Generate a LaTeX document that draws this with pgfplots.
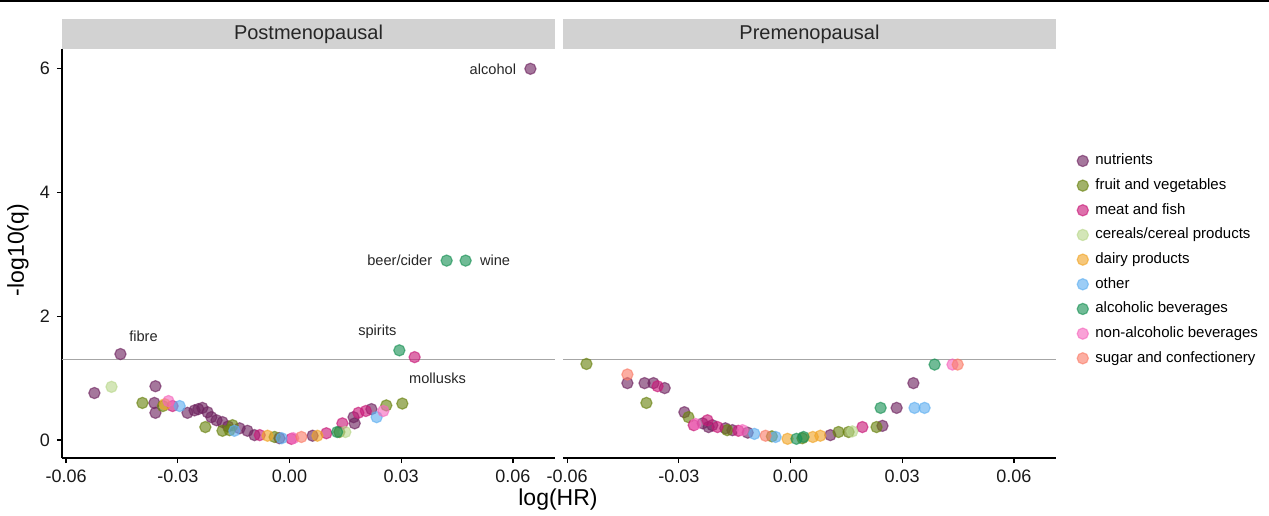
\documentclass[border=0pt]{standalone}
\usepackage{pgfplots}
\pgfplotsset{compat=1.18}
\usepackage{fontspec}
\setmainfont{Liberation Sans}
\definecolor{cNut}{RGB}{110,35,95}
\definecolor{cFru}{RGB}{105,130,15}
\definecolor{cMea}{RGB}{200,25,120}
\definecolor{cCer}{RGB}{185,215,140}
\definecolor{cDai}{RGB}{240,165,40}
\definecolor{cOth}{RGB}{95,175,240}
\definecolor{cAlc}{RGB}{25,145,85}
\definecolor{cNon}{RGB}{245,105,190}
\definecolor{cSug}{RGB}{250,125,105}
\definecolor{stripgray}{RGB}{210,210,210}
\tikzset{lab/.style={font=\fontsize{7.3}{9}\selectfont, text=black!85, inner sep=0pt}}
\pgfplotsset{
  pt/.style={only marks, mark=*, mark size=2.8pt, color=#1, mark options={fill opacity=0.62, draw opacity=0.62, line width=0.6pt}},
  panel/.style={scale only axis, width=246.5pt, height=204.5pt,
    xmin=-0.0611, xmax=0.0713, ymin=-0.29, ymax=6.32,
    axis x line*=bottom, axis line style={line width=0.8pt, -},
    xtick={-0.06,-0.03,0,0.03,0.06}, xticklabels={-0.06,-0.03,0.00,0.03,0.06},
    tick style={black, line width=0.6pt}, major tick length=2.5pt, tick align=outside,
    ticklabel style={font=\fontsize{9}{10}\selectfont, text=black!90},
    clip=false, scaled x ticks=false}
}
\begin{document}
\begin{tikzpicture}
\useasboundingbox (-31pt,-28.5pt) rectangle (603.5pt,229pt);
\draw[line width=1pt] (-31pt,228.6pt) -- (603.5pt,228.6pt);
% ---------------- Postmenopausal
\begin{axis}[panel, at={(0pt,0pt)}, anchor=south west,
  axis y line*=left, ytick={0,2,4,6}, yticklabels={0,2,4,6}]
\fill[stripgray] (rel axis cs:0,1) rectangle ([yshift=15pt]rel axis cs:1,1);
\node[font=\fontsize{10}{12}\selectfont, text=black!85] at ([yshift=7.5pt]rel axis cs:0.5,1) {Postmenopausal};
\addplot[forget plot, color=black!35, line width=0.5pt] coordinates {(-0.0611,1.301) (0.0713,1.301)};
\addplot[pt=cNut] coordinates {(0.0647,6.0) (-0.0454,1.39) (-0.0524,0.76) (-0.036,0.87) (-0.0363,0.60) (-0.036,0.44) (-0.0274,0.44) (-0.0255,0.48) (-0.0234,0.52) (-0.022,0.45) (-0.021,0.37) (-0.0196,0.32) (-0.018,0.29) (-0.0134,0.19) (-0.0113,0.15) (-0.0094,0.08) (-0.0027,0.03) (0.0062,0.07) (0.0172,0.37) (0.0175,0.27) (0.022,0.50) (-0.0245,0.50) (-0.0165,0.22)};
\addplot[pt=cFru] coordinates {(-0.0395,0.60) (-0.034,0.55) (-0.0226,0.21) (-0.018,0.15) (-0.0161,0.16) (-0.0153,0.24) (-0.004,0.05) (0.0134,0.13) (0.026,0.56) (0.0303,0.59)};
\addplot[pt=cMea] coordinates {(0.0336,1.34) (-0.0314,0.55) (-0.008,0.08) (0.0005,0.02) (0.0099,0.11) (0.0142,0.27) (0.0185,0.44) (0.0205,0.47)};
\addplot[pt=cCer] coordinates {(-0.0478,0.86) (0.015,0.13)};
\addplot[pt=cDai] coordinates {(-0.0335,0.58) (-0.0059,0.07) (0.0075,0.07)};
\addplot[pt=cOth] coordinates {(-0.0295,0.55) (-0.0148,0.15) (-0.0021,0.03) (0.0234,0.37)};
\addplot[pt=cAlc] coordinates {(0.0422,2.90) (0.0473,2.90) (0.0295,1.45) (0.0128,0.13)};
\addplot[pt=cNon] coordinates {(0.0252,0.47) (0.0010,0.03) (-0.0325,0.63)};
\addplot[pt=cSug] coordinates {(0.0032,0.05)};
\node[lab, anchor=east] at ([xshift=-7pt]axis cs:0.0647,6.0) {alcohol};
\node[lab, anchor=east] at ([xshift=-7pt]axis cs:0.0422,2.90) {beer/cider};
\node[lab, anchor=west] at ([xshift=7pt]axis cs:0.0473,2.90) {wine};
\node[lab] at ([xshift=-11pt,yshift=9.5pt]axis cs:0.0295,1.45) {spirits};
\node[lab] at ([xshift=11.5pt,yshift=-10.5pt]axis cs:0.0336,1.34) {mollusks};
\node[lab] at ([xshift=11.5pt,yshift=9pt]axis cs:-0.0454,1.39) {fibre};
\end{axis}
% ---------------- Premenopausal
\begin{axis}[panel, at={(250.5pt,0pt)}, anchor=south west,
  axis y line=none, ytick=\empty,
  legend style={at={(1.03,0.485)}, anchor=west, draw=none, fill=none,
    font=\fontsize{7.5}{9}\selectfont, row sep=1.4pt, column sep=1.5pt},
  legend cell align=left]
\fill[stripgray] (rel axis cs:0,1) rectangle ([yshift=15pt]rel axis cs:1,1);
\node[font=\fontsize{10}{12}\selectfont, text=black!85] at ([yshift=7.5pt]rel axis cs:0.5,1) {Premenopausal};
\addplot[forget plot, color=black!35, line width=0.5pt] coordinates {(-0.0611,1.301) (0.0713,1.301)};
\addplot[forget plot, pt=cNut] coordinates {(-0.0438,0.92) (-0.0392,0.92) (-0.0368,0.92) (-0.0338,0.84) (-0.0285,0.45) (-0.0236,0.27) (-0.0210,0.24) (-0.022,0.21) (-0.0175,0.19) (-0.0156,0.16) (-0.0115,0.12) (0.0107,0.08) (0.0247,0.23) (0.0285,0.52) (0.033,0.92)};
\addplot[forget plot, pt=cFru] coordinates {(-0.0548,1.23) (-0.0387,0.60) (-0.0274,0.37) (-0.017,0.16) (-0.0050,0.06) (0.0032,0.03) (0.0129,0.13) (0.0156,0.13) (0.0231,0.21)};
\addplot[forget plot, pt=cMea] coordinates {(-0.0357,0.87) (-0.026,0.24) (-0.0223,0.32) (-0.0196,0.21) (-0.0140,0.15) (0.0193,0.21)};
\addplot[forget plot, pt=cCer] coordinates {(0.0166,0.14)};
\addplot[forget plot, pt=cDai] coordinates {(-0.0008,0.02) (0.0060,0.05) (0.008,0.07)};
\addplot[forget plot, pt=cOth] coordinates {(-0.0097,0.10) (-0.004,0.05) (0.0333,0.52) (0.036,0.52)};
\addplot[forget plot, pt=cAlc] coordinates {(0.0016,0.02) (0.0035,0.05) (0.0242,0.52) (0.0387,1.22)};
\addplot[forget plot, pt=cNon] coordinates {(-0.0255,0.26) (-0.0129,0.16) (0.0435,1.22)};
\addplot[forget plot, pt=cSug] coordinates {(-0.0438,1.06) (-0.0067,0.07) (0.0449,1.22)};
\addlegendimage{pt=cNut}\addlegendentry{nutrients}
\addlegendimage{pt=cFru}\addlegendentry{fruit and vegetables}
\addlegendimage{pt=cMea}\addlegendentry{meat and fish}
\addlegendimage{pt=cCer}\addlegendentry{cereals/cereal products}
\addlegendimage{pt=cDai}\addlegendentry{dairy products}
\addlegendimage{pt=cOth}\addlegendentry{other}
\addlegendimage{pt=cAlc}\addlegendentry{alcoholic beverages}
\addlegendimage{pt=cNon}\addlegendentry{non-alcoholic beverages}
\addlegendimage{pt=cSug}\addlegendentry{sugar and confectionery}
\end{axis}
\node[font=\fontsize{11.5}{13}\selectfont] at (248pt,-21pt) {log(HR)};
\node[font=\fontsize{11.5}{13}\selectfont, rotate=90] at (-22pt,104pt) {-log10(q)};
\end{tikzpicture}
\end{document}
